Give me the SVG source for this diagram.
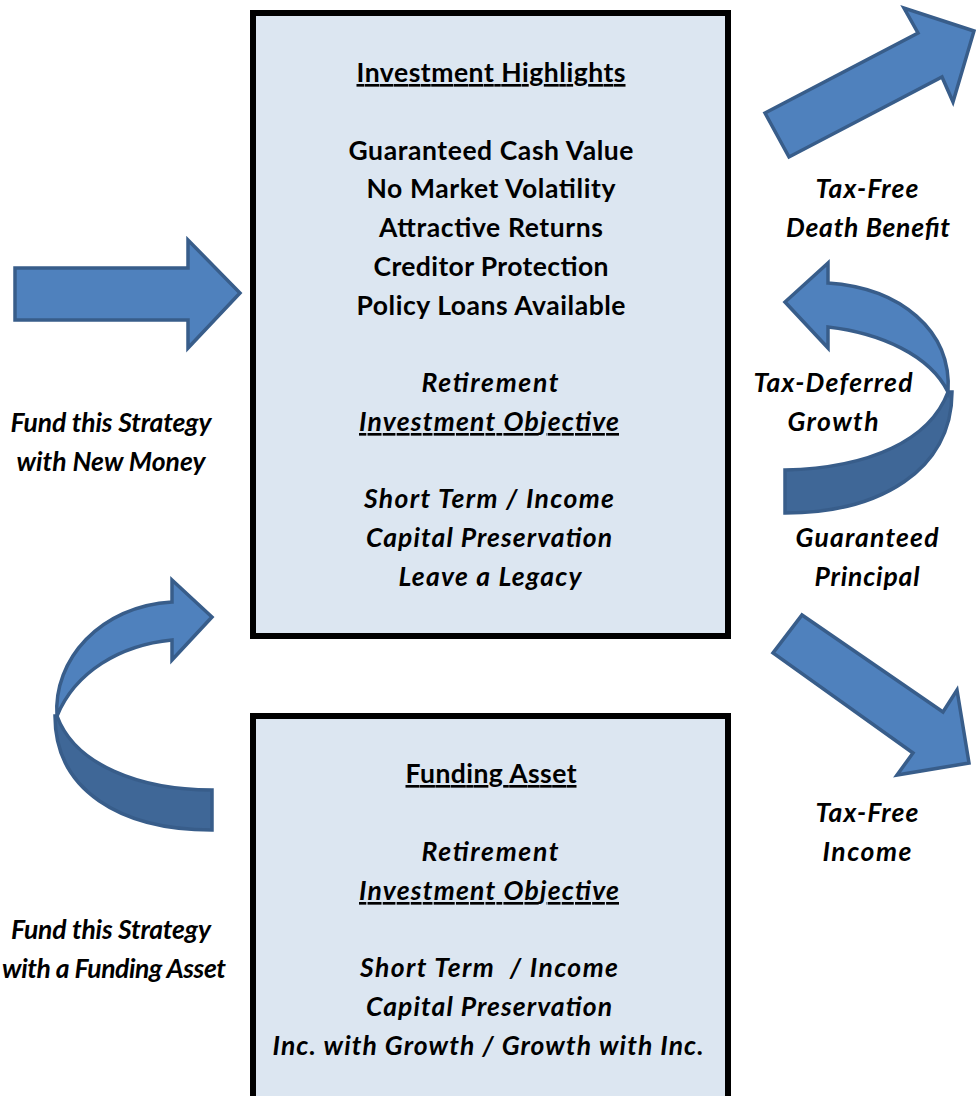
<svg xmlns="http://www.w3.org/2000/svg" width="978" height="1096" viewBox="0 0 978 1096">
<style>
.box{fill:#dce6f1;stroke:#000;stroke-width:6}
.arr{fill:#4f81bd;stroke:#385d8a;stroke-width:3.5;stroke-linejoin:miter}
.back{fill:#3f6797;stroke:#385d8a;stroke-width:3.5}
text{font-family:Lato,"Open Sans","Liberation Sans",sans-serif;font-weight:bold;font-size:26.5px;fill:#000;text-anchor:middle}
.i{font-style:italic}
.u{text-decoration:underline}
</style>
<rect width="978" height="1096" fill="#fff"/>
<g id="connectors">
  <path id="arrow-left" class="arr" d="M15,268 L188,268 L188,240 L240,293 L188,348 L188,320 L15,320 Z"/>
  <path id="arrow-topright" class="arr" d="M765,113 L918,33 L904,8 L974,31 L953,102 L942,77 L789,157 Z"/>
  <path id="arrow-bottomright" class="arr" d="M802,615 L943,712 L957,690 L969,763 L897,775 L913,753 L773,653 Z"/>
  <g id="curved-left">
    <path class="back" d="M57,716 C75,765 140,790 212,790 L212,830 C120,830 55,790 55,716 Z"/>
    <path class="arr" d="M172,580 L212,617 L172,660 L172,640 C120,645 75,672 57,716 C53,660 100,606 172,602 Z"/>
  </g>
  <g id="curved-right">
    <path class="back" d="M948,392 C930,440 870,468 785,470 L785,513 C880,513 952,470 952,392 Z"/>
    <path class="arr" d="M828,263 L785,302 L828,348 L828,327 C880,333 930,355 948,392 C952,330 900,288 828,283 Z"/>
  </g>
</g>
<g id="node-highlights">
  <rect class="box" x="253" y="13" width="475" height="623"/>
  <text x="491" y="82" class="u" textLength="269">Investment Highlights</text>
  <text x="491" y="160" textLength="285">Guaranteed Cash Value</text>
  <text x="491" y="198" textLength="249">No Market Volatility</text>
  <text x="491" y="237" textLength="224">Attractive Returns</text>
  <text x="491" y="276" textLength="235">Creditor Protection</text>
  <text x="491" y="315" textLength="269">Policy Loans Available</text>
  <text x="490" y="392" class="i" textLength="137">Retirement</text>
  <text x="489" y="431" class="i u" textLength="260">Investment Objective</text>
  <text x="489" y="508" class="i" textLength="250">Short Term / Income</text>
  <text x="489" y="547" class="i" textLength="246">Capital Preservation</text>
  <text x="490" y="586" class="i" textLength="183">Leave a Legacy</text>
</g>
<g id="node-funding">
  <rect class="box" x="253" y="716" width="475" height="400"/>
  <text x="491" y="783" class="u" textLength="171">Funding Asset</text>
  <text x="490" y="861" class="i" textLength="137">Retirement</text>
  <text x="489" y="900" class="i u" textLength="260">Investment Objective</text>
  <text x="489" y="977" class="i" xml:space="preserve" textLength="258">Short Term  / Income</text>
  <text x="489" y="1016" class="i" textLength="246">Capital Preservation</text>
  <text x="488" y="1055" class="i" textLength="431">Inc. with Growth / Growth with Inc.</text>
</g>
<g id="label-newmoney">
  <text x="111" y="432" class="i" textLength="201">Fund this Strategy</text>
  <text x="111" y="471" class="i" textLength="189">with New Money</text>
</g>
<g id="label-fundingasset">
  <text x="111" y="939" class="i" textLength="200">Fund this Strategy</text>
  <text x="114" y="978" class="i" textLength="224">with a Funding Asset</text>
</g>
<g id="label-deathbenefit">
  <text x="867" y="198" class="i" textLength="103">Tax-Free</text>
  <text x="868" y="237" class="i" textLength="164">Death Benefit</text>
</g>
<g id="label-growth">
  <text x="833" y="392" class="i" textLength="159">Tax-Deferred</text>
  <text x="833" y="431" class="i" textLength="91">Growth</text>
</g>
<g id="label-principal">
  <text x="867" y="547" class="i" textLength="143">Guaranteed</text>
  <text x="867" y="586" class="i" textLength="105">Principal</text>
</g>
<g id="label-income">
  <text x="867" y="822" class="i" textLength="103">Tax-Free</text>
  <text x="867" y="861" class="i" textLength="89">Income</text>
</g>
</svg>
